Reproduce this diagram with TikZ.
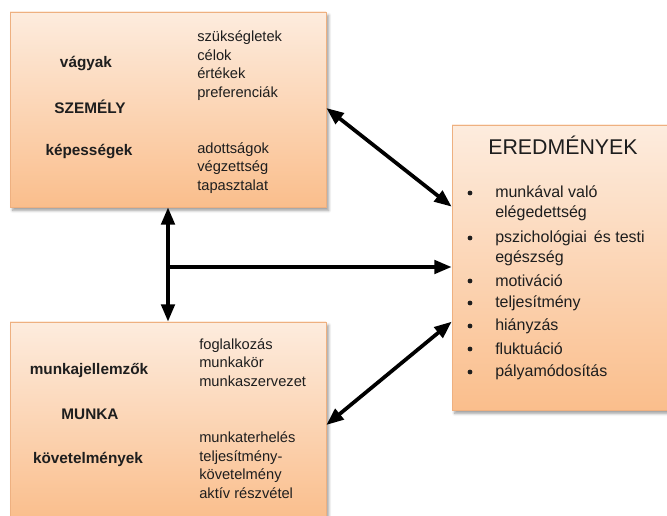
\documentclass[tikz,border=0pt]{standalone}
\usepackage{fontspec}
\setmainfont{Liberation Sans}
\usetikzlibrary{arrows.meta,calc,shadows.blur}
\definecolor{boxtop}{RGB}{253,236,222}
\definecolor{boxbot}{RGB}{250,190,140}
\definecolor{boxline}{RGB}{238,176,128}
\definecolor{ink}{RGB}{30,30,30}
\begin{document}
\begin{tikzpicture}[x=0.75pt,y=-0.75pt,
  panel/.style={rectangle, draw=boxline, line width=0.5pt,
    top color=boxtop, bottom color=boxbot,
    blur shadow={shadow xshift=2pt, shadow yshift=-2.5pt, shadow opacity=40, shadow blur steps=6},
    inner sep=0pt},
  head/.style={font=\fontsize{11.5}{13.9}\selectfont\bfseries, text=ink},
  item/.style={font=\fontsize{11}{13.9}\selectfont, text=ink, align=left, anchor=west, inner sep=0pt},
  result/.style={font=\fontsize{12}{15}\selectfont, text=ink, align=left, anchor=west, inner sep=0pt},
  dot/.style={circle, fill=ink, inner sep=0pt, minimum size=3.6pt},
  tip/.tip={Triangle[length=13pt,width=10pt]},
  link/.style={line width=2.8pt, draw=black, -tip},
  dlink/.style={line width=2.8pt, draw=black, tip-tip}]
\useasboundingbox (0,0) rectangle (667,516);

% the three panels
\node[panel, minimum width=237pt, minimum height=146.25pt] (person) at (168,109.5) {};
\node[panel, minimum width=237pt, minimum height=148.5pt] (work) at (168,421) {};
\node[panel, minimum width=165pt, minimum height=213.75pt] (out) at (562,267.5) {};

% SZEMÉLY panel
\node[head] (p1) at (86,64) {vágyak};
\node[head] (p2) at (90,107) {SZEMÉLY};
\node[head] (p3) at (89,152) {képességek};
\node[item] (p4) at (197,65.5) {szükségletek\\célok\\értékek\\preferenciák};
\node[item] (p5) at (197,168) {adottságok\\végzettség\\tapasztalat};

% MUNKA panel
\node[head] (w1) at (89,371) {munkajellemzők};
\node[head] (w2) at (90,414) {MUNKA};
\node[head] (w3) at (88,459) {követelmények};
\node[item] (w4) at (199,362.5) {foglalkozás\\munkakör\\munkaszervezet};
\node[item] (w5) at (199,465) {munkaterhelés\\teljesítmény-\\követelmény\\aktív részvétel};

% EREDMÉNYEK panel
\node[font=\fontsize{16}{19}\selectfont, text=ink] (ot) at (563,145) {EREDMÉNYEK};
\node[result] (r1) at (495,203) {munkával való\\elégedettség};
\node[result] (r2) at (495,248) {pszichológiai\, és testi\\egészség};
\node[result] (r3) at (495,281) {motiváció};
\node[result] (r4) at (495,303) {teljesítmény};
\node[result] (r5) at (495,326) {hiányzás};
\node[result] (r6) at (495,349) {fluktuáció};
\node[result] (r7) at (495,372) {pályamódosítás};
\foreach \yy/\nm in {193/b1,238/b2,281/b3,303/b4,326/b5,349/b6,372/b7}
  \node[dot] (\nm) at (470,\yy) {};

% connectors
\coordinate (j) at (168,267);
\coordinate (u1) at ($(out.north west)+(0,82)$);
\coordinate (u2) at ($(out.north west)+(0,197)$);
\coordinate (s1) at ($(person.east)+(0,-1.5)$);
\coordinate (s2) at ($(work.east)+(0,4)$);
\draw[dlink] (person.south) -- (work.north);
\draw[link] (j) -- (j -| out.west);
\draw[dlink] (s1) -- (u1);
\draw[dlink] (s2) -- (u2);
\end{tikzpicture}
\end{document}
